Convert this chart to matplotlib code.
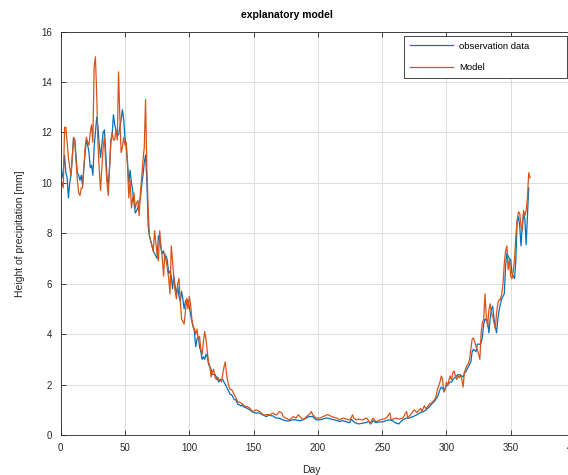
import numpy as np
import matplotlib
matplotlib.use("Agg")
import matplotlib.pyplot as plt

# ---------------- data ----------------
obs_part1 = [10.2, 10.5, 11.1, 10.4, 10.2, 9.4, 10.0, 10.3, 11.0, 11.8, 11.7, 11.0, 10.4, 10.3, 10.1,
             10.3, 9.9, 10.6, 11.2, 11.7, 11.5, 11.2, 10.6, 10.7, 10.3, 11.4, 12.0, 12.6, 12.2, 11.5,
             11.0, 11.5, 12.0, 12.1, 11.2, 10.2, 9.9, 10.6, 11.7, 11.9, 12.7, 12.3, 12.1, 11.9, 11.9,
             12.2, 12.5, 12.9, 12.5, 11.8, 11.4, 10.8, 10.0, 10.5, 10.0, 9.7, 9.2, 8.8, 8.9, 9.0,
             9.2, 9.4, 9.9, 10.3, 10.8, 11.1, 10.1, 8.3, 7.9]
obs_part2 = [7.7, 7.5, 7.3, 7.2, 7.1, 7.0, 7.9, 7.7, 7.4, 7.2, 7.3, 7.0, 7.1, 6.9, 6.4, 6.5, 6.3, 5.8,
             6.3, 5.9, 5.6, 5.9, 5.5, 5.3, 5.7, 5.4, 5.0, 5.3, 5.4, 5.3, 5.1, 4.8, 4.5, 4.3, 4.1, 3.5,
             3.8, 3.9, 3.5, 3.3, 3.0, 3.1, 3.0, 3.2, 3.1, 2.8, 2.7, 2.6, 2.4, 2.4, 2.4, 2.3, 2.2, 2.1,
             2.2, 2.2, 2.2, 2.1, 2.0, 1.9, 1.8, 1.7, 1.6, 1.6, 1.5, 1.4, 1.4, 1.3, 1.2, 1.2, 1.15]
obs_part3 = [1.2, 1.13, 1.1, 1.08, 1.06, 1.03, 1.0, 0.96, 0.92, 0.9, 0.88, 0.87, 0.88, 0.87, 0.86,
             0.83, 0.8, 0.78, 0.75, 0.73, 0.76, 0.8, 0.78, 0.76, 0.76, 0.72, 0.68, 0.67, 0.67, 0.67,
             0.64, 0.62, 0.6, 0.58, 0.56, 0.56, 0.56, 0.56, 0.58, 0.6, 0.6, 0.6, 0.6, 0.58, 0.57,
             0.56, 0.58, 0.6, 0.63, 0.65, 0.67, 0.7, 0.73, 0.73, 0.73, 0.73, 0.68, 0.63, 0.6, 0.6,
             0.6, 0.61, 0.62, 0.63, 0.65, 0.67, 0.67, 0.67, 0.65, 0.63, 0.62, 0.61, 0.6, 0.58, 0.57,
             0.55, 0.53, 0.55, 0.57, 0.56, 0.54, 0.53, 0.51, 0.49, 0.5, 0.63, 0.57, 0.52, 0.48, 0.47,
             0.45, 0.44, 0.45, 0.46, 0.47, 0.48, 0.49, 0.5, 0.52, 0.53, 0.43, 0.5, 0.57, 0.53, 0.49,
             0.5, 0.51, 0.52, 0.52, 0.52, 0.53, 0.55, 0.57, 0.58, 0.59, 0.6, 0.58, 0.57, 0.53, 0.49,
             0.47, 0.45, 0.44, 0.5, 0.55, 0.6, 0.63, 0.65, 0.67, 0.67, 0.67, 0.69, 0.71, 0.73, 0.75,
             0.78, 0.8, 0.83, 0.87, 0.89, 0.91, 0.93, 0.96, 0.99, 1.03, 1.08, 1.13, 1.2, 1.25, 1.3]
obs_part4 = [1.35, 1.45, 1.5, 1.65, 1.8, 1.9, 1.85, 1.75, 1.85, 1.95, 2.0, 2.05, 2.1, 2.1, 2.2,
             2.25, 2.3, 2.35, 2.4, 2.38, 2.36, 2.34, 2.3, 2.45, 2.5, 2.6, 2.7, 2.8, 2.9, 3.3,
             3.4, 3.35, 3.3, 3.6, 3.6, 3.6, 3.65, 3.9, 4.4, 4.6, 4.55, 4.5, 4.05, 4.6, 5.0,
             5.1, 4.6, 4.3, 4.05, 4.6, 4.95, 5.2, 5.4, 5.5, 5.6, 6.7, 7.2, 7.1, 7.0, 6.95,
             6.4, 6.3, 6.2, 6.95, 8.5, 8.65, 8.3, 7.5, 8.3, 8.8, 8.55, 7.55, 8.65, 9.8]

model_part1 = [10.0, 9.8, 12.2, 12.2, 11.6, 11.0, 10.6, 10.3, 11.0, 11.8, 11.6, 10.8, 10.1, 9.6, 9.5,
               9.8, 9.8, 10.6, 11.4, 11.8, 11.6, 11.5, 12.0, 12.3, 11.6, 14.6, 15.0, 13.5, 11.5, 10.5,
               9.7, 10.6, 11.4, 11.8, 10.8, 10.0, 9.5, 10.6, 11.6, 12.0, 11.7, 11.7, 12.1, 11.7, 14.4,
               12.6, 11.2, 11.4, 11.8, 11.5, 11.6, 10.6, 9.4, 10.1, 9.0, 9.4, 9.6, 9.0, 9.2, 9.3,
               8.7, 9.6, 10.2, 10.9, 11.4, 13.3, 10.6, 9.0, 7.9]
model_part2 = [7.7, 7.5, 7.3, 8.1, 7.6, 7.2, 6.9, 8.1, 7.5, 7.0, 6.3, 7.2, 6.9, 6.6, 6.2, 5.6, 7.5, 6.9,
               6.2, 5.7, 5.4, 6.0, 6.2, 5.3, 4.6, 4.5, 4.4, 4.9, 5.4, 5.0, 5.5, 5.2, 4.6, 4.3, 4.2, 4.0,
               4.2, 3.8, 3.9, 3.4, 3.2, 3.7, 4.1, 3.8, 3.3, 2.9, 2.7, 2.3, 2.5, 2.6, 2.3, 2.2, 2.3, 2.2,
               2.2, 2.1, 2.4, 2.7, 2.9, 2.4, 2.1, 1.9, 1.8, 1.8, 1.7, 1.6, 1.5, 1.4, 1.3, 1.3, 1.28]
model_part3 = [1.25, 1.2, 1.15, 1.13, 1.12, 1.1, 1.07, 1.0, 0.95, 0.93, 0.97, 1.0, 0.97, 0.95, 0.93,
               0.87, 0.82, 0.8, 0.8, 0.8, 0.82, 0.8, 0.8, 0.84, 0.87, 0.84, 0.8, 0.8, 0.86, 0.93,
               0.9, 0.87, 0.73, 0.7, 0.67, 0.65, 0.62, 0.6, 0.65, 0.7, 0.73, 0.7, 0.67, 0.75, 0.8,
               0.73, 0.68, 0.62, 0.6, 0.66, 0.73, 0.76, 0.8, 0.86, 0.93, 0.8, 0.75, 0.7, 0.67, 0.67,
               0.67, 0.68, 0.7, 0.73, 0.75, 0.78, 0.8, 0.8, 0.78, 0.75, 0.72, 0.71, 0.7, 0.68, 0.67,
               0.63, 0.6, 0.63, 0.66, 0.67, 0.65, 0.63, 0.62, 0.6, 0.6, 0.7, 0.8, 0.66, 0.63, 0.6,
               0.62, 0.63, 0.62, 0.6, 0.6, 0.63, 0.66, 0.67, 0.6, 0.52, 0.47, 0.6, 0.67, 0.6, 0.55,
               0.53, 0.57, 0.6, 0.61, 0.62, 0.63, 0.65, 0.67, 0.72, 0.8, 0.87, 0.6, 0.63, 0.64, 0.65,
               0.67, 0.65, 0.63, 0.64, 0.66, 0.67, 0.75, 0.85, 0.93, 0.67, 0.73, 0.8, 0.87, 0.93, 1.0,
               0.95, 0.89, 0.95, 1.0, 1.05, 0.93, 1.07, 1.16, 1.03, 1.1, 1.16, 1.25, 1.25, 1.3, 1.36]
model_part4 = [1.42, 1.55, 1.8, 1.95, 2.1, 2.34, 2.2, 1.7, 1.8, 2.1, 1.95, 2.2, 2.34, 2.2, 2.47,
               2.54, 2.34, 2.2, 2.34, 2.27, 2.4, 2.2, 1.9, 2.5, 2.63, 2.76, 2.83, 3.0, 3.4, 3.8,
               3.85, 3.7, 3.5, 3.4, 3.2, 3.0, 4.05, 4.45, 4.6, 5.6, 4.7, 4.3, 4.95, 5.2, 4.84,
               4.7, 4.45, 4.2, 4.84, 5.24, 5.37, 5.37, 5.6, 6.0, 6.8, 7.3, 7.5, 6.55, 6.95, 6.3,
               6.2, 6.5, 7.0, 7.9, 8.5, 8.85, 8.8, 8.3, 8.1, 8.9, 8.7, 8.9, 9.4, 10.4, 10.2]

observation = obs_part1 + obs_part2 + obs_part3 + obs_part4
model = model_part1 + model_part2 + model_part3 + model_part4
days_obs = np.arange(1, len(observation) + 1)
days_model = np.arange(1, len(model) + 1)

x_ticks = [0, 50, 100, 150, 200, 250, 300, 350, 400]
y_ticks = [0, 2, 4, 6, 8, 10, 12, 14, 16]

# ---------------- style ----------------
plt.rcParams['font.family'] = ['Liberation Sans', 'DejaVu Sans']
dark = '#262626'

W, H = 568, 475
fig = plt.figure(figsize=(W / 100, H / 100), dpi=100)
x0, x1 = 60.7, 575.0
y0, y1 = 435.0, 31.5
ax = fig.add_axes([x0 / W, 1 - y0 / H, (x1 - x0) / W, (y0 - y1) / H])

ax.plot(days_obs, observation, color='#0072BD', lw=0.9, label='observation data')
ax.plot(days_model, model, color='#D95319', lw=0.9, label='Model')

ax.set_xlim(0, 400)
ax.set_ylim(0, 16)
ax.set_xticks(x_ticks)
ax.set_yticks(y_ticks)
ax.grid(True, color='#dcdcdc', lw=0.7)
ax.set_axisbelow(True)
ax.tick_params(direction='in', length=3.5, width=0.6, colors=dark, labelsize=7,
               top=True, right=True, pad=6)
for s in ax.spines.values():
    s.set_color(dark)
    s.set_linewidth(0.6)

ax.set_title('explanatory model', fontsize=7.5, fontweight='bold', color='black',
             x=0.44, pad=10)
ax.set_xlabel('Day', fontsize=7.5, color=dark, labelpad=14)
ax.xaxis.set_label_coords(0.488, -0.075)
ax.set_ylabel('Height of precipitation [mm]', fontsize=7.5, color=dark, labelpad=12)

leg = ax.legend(loc='upper left', bbox_to_anchor=(0.6675, 0.0, 0.3175, 0.9888), mode='expand',
                fontsize=6.8, frameon=True, fancybox=False, edgecolor=dark, framealpha=1,
                handlelength=4.6, handletextpad=0.6, labelspacing=1.3, borderpad=0.6,
                borderaxespad=0)
leg.get_frame().set_linewidth(0.6)

fig.savefig('out.png', dpi=100)
